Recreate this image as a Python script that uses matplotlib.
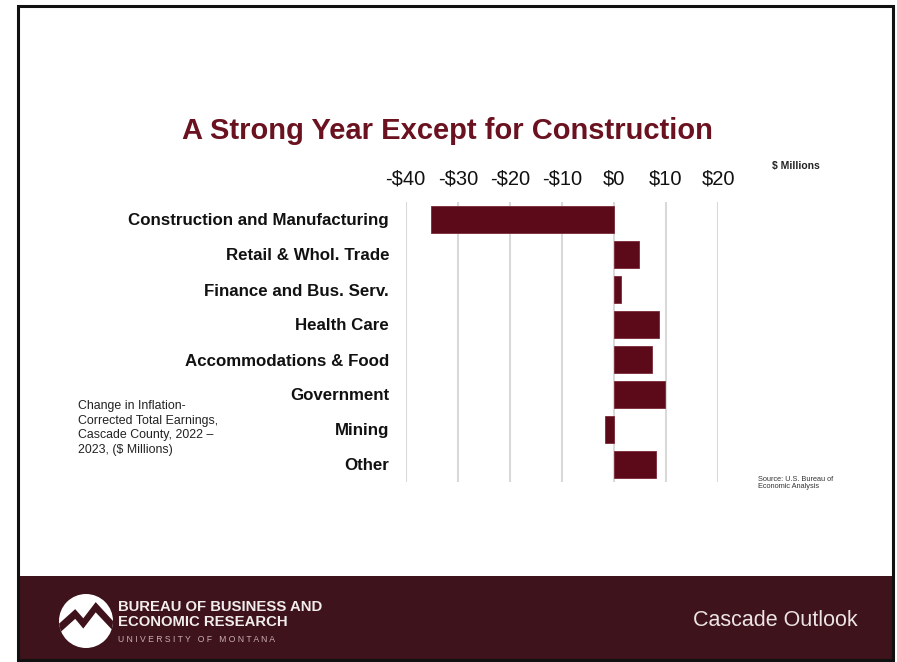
import matplotlib
matplotlib.use("Agg")
import matplotlib.pyplot as plt
from matplotlib.patches import Rectangle, Circle, Polygon

plt.rcParams['font.family'] = ['Liberation Sans', 'DejaVu Sans']

# data
categories = ['Construction and Manufacturing', 'Retail & Whol. Trade', 'Finance and Bus. Serv.',
              'Health Care', 'Accommodations & Food', 'Government', 'Mining', 'Other']
change = [-35.2, 4.8, 1.4, 8.6, 7.4, 9.9, -1.8, 8.0]
tick_vals = [-40, -30, -20, -10, 0, 10, 20]
tick_labels = ['-$40', '-$30', '-$20', '-$10', '$0', '$10', '$20']

W, H = 897, 662
maroon = '#5c0a1a'
footer_col = '#3e131b'


def fx(x):
    return x / W


def fy(y):
    return 1 - y / H


fig = plt.figure(figsize=(W / 100, H / 100), dpi=100)
fig.patch.set_facecolor('white')

# footer band and slide frame
footer = Rectangle((fx(18), fy(660)), fx(893) - fx(18), fy(576) - fy(660),
                   transform=fig.transFigure, facecolor=footer_col, edgecolor='none', zorder=-2)
fig.patches.append(footer)
frame = Rectangle((fx(18), fy(660)), fx(893) - fx(18), fy(6) - fy(660),
                  transform=fig.transFigure, facecolor='none', edgecolor='#111111',
                  linewidth=2.2, zorder=5)
fig.patches.append(frame)

# chart
ax = fig.add_axes([fx(405.7), fy(482), fx(718) - fx(405.7), fy(202) - fy(482)])
ypos = list(range(len(categories)))
ax.barh(ypos, change, height=0.75, color=maroon, edgecolor='#7a2a36', linewidth=0.6, zorder=3)
ax.set_xlim(-40, 20)
ax.set_ylim(7.5, -0.5)
ax.set_xticks(tick_vals)
ax.set_xticklabels(tick_labels, fontsize=14.5, color='#111111')
ax.xaxis.tick_top()
ax.tick_params(axis='x', length=0, pad=10)
ax.set_yticks(ypos)
ax.set_yticklabels(categories, fontsize=12.2, fontweight='bold', color='#111111')
ax.tick_params(axis='y', length=0, pad=12)
ax.grid(axis='x', color='#d9d9d9', linewidth=1.5, zorder=0)
for s in ax.spines.values():
    s.set_visible(False)
ax.set_facecolor('none')

# texts
fig.text(fx(447.5), fy(131), 'A Strong Year Except for Construction', ha='center', va='center',
         fontsize=21, fontweight='bold', color='#6a1220')
fig.text(fx(796), fy(166), '$ Millions', ha='center', va='center', fontsize=7.5,
         fontweight='bold', color='#222222')
fig.text(fx(78), fy(400), 'Change in Inflation-\nCorrected Total Earnings,\nCascade County, 2022 \u2013\n2023, ($ Millions)',
         ha='left', va='top', fontsize=8.9, color='#222222', linespacing=1.3)
fig.text(fx(758), fy(476), 'Source: U.S. Bureau of\nEconomic Analysis', ha='left', va='top',
         fontsize=5.3, color='#333333', linespacing=1.1)

# footer logo
logo = fig.add_axes([fx(59), fy(648), fx(113) - fx(59), fy(594) - fy(648)])
logo.set_zorder(6)
logo.set_xlim(0, 1)
logo.set_ylim(0, 1)
logo.set_aspect('equal')
logo.axis('off')
circ = Circle((0.5, 0.5), 0.5, facecolor='white', edgecolor='none')
logo.add_patch(circ)
mount = Polygon([(0.0, 0.45), (0.3, 0.72), (0.45, 0.55), (0.68, 0.85), (1.0, 0.5),
                 (1.0, 0.32), (0.68, 0.66), (0.45, 0.36), (0.3, 0.54), (0.0, 0.27)],
                closed=True, facecolor=footer_col, edgecolor='none')
logo.add_patch(mount)
mount.set_clip_path(circ)

fig.text(fx(118), fy(607), 'BUREAU OF BUSINESS AND', ha='left', va='center', fontsize=10.7,
         fontweight='bold', color='#f2eded')
fig.text(fx(118), fy(622), 'ECONOMIC RESEARCH', ha='left', va='center', fontsize=10.7,
         fontweight='bold', color='#f2eded')
fig.text(fx(118), fy(639), 'U N I V E R S I T Y   O F   M O N T A N A', ha='left', va='center',
         fontsize=6.2, color='#c9aeb2')
fig.text(fx(693), fy(621), 'Cascade Outlook', ha='left', va='center', fontsize=15.5,
         color='#ece4e4')

fig.savefig('out.png', dpi=100, facecolor='white')
